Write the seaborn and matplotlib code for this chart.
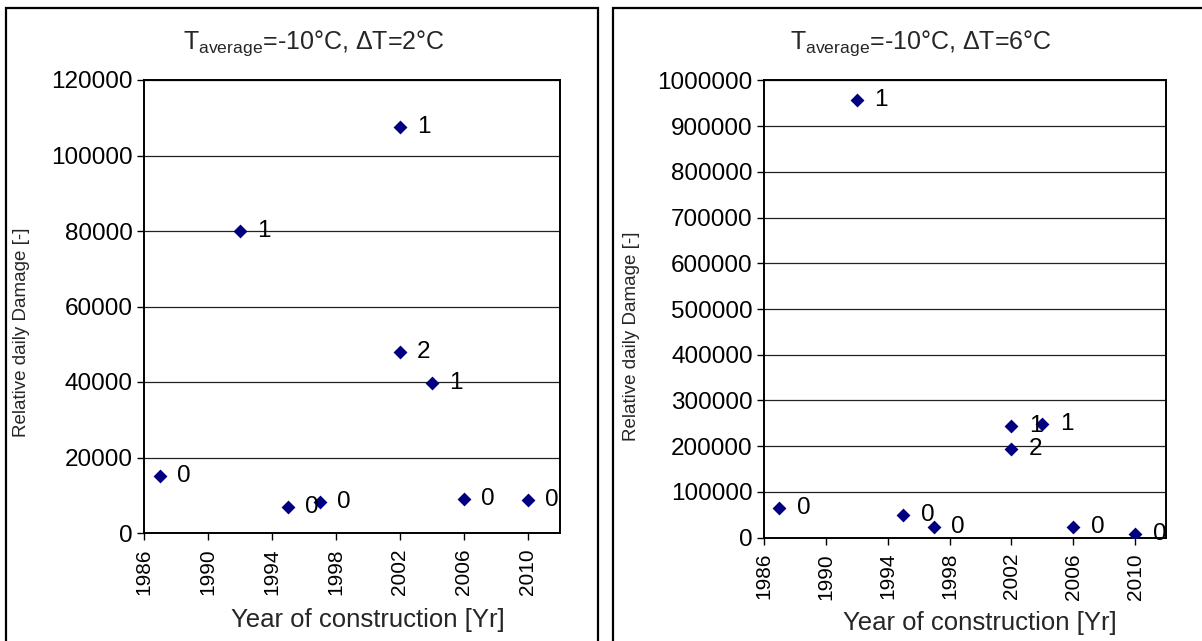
import matplotlib
matplotlib.use("Agg")
import matplotlib.pyplot as plt
from matplotlib.patches import Rectangle
from matplotlib.ticker import FuncFormatter
import seaborn as sns
import pandas as pd

# ---------------- data ----------------
years_left = [1987, 1992, 1995, 1997, 2002, 2002, 2004, 2006, 2010]
damage_left = [15200, 80000, 6900, 8300, 107600, 47900, 39700, 9100, 8700]
labels_left = ["0", "1", "0", "0", "1", "2", "1", "0", "0"]

years_right = [1987, 1992, 1995, 1997, 2002, 2002, 2004, 2006, 2010]
damage_right = [64300, 958000, 49600, 22700, 244000, 194600, 248000, 22700, 7400]
labels_right = ["0", "1", "0", "0", "1", "2", "1", "0", "0"]

xticks = [1986, 1990, 1994, 1998, 2002, 2006, 2010]
yticks_left = [0, 20000, 40000, 60000, 80000, 100000, 120000]
yticks_right = [0, 100000, 200000, 300000, 400000, 500000, 600000, 700000, 800000, 900000, 1000000]

title_left = r"T$_{\mathrm{average}}$=-10°C, ΔT=2°C"
title_right = r"T$_{\mathrm{average}}$=-10°C, ΔT=6°C"
xlabel = "Year of construction [Yr]"
ylabel = "Relative daily Damage [-]"

# ---------------- style ----------------
sns.set_style("white")
plt.rcParams["font.family"] = ["Liberation Sans", "DejaVu Sans"]
plt.rcParams["mathtext.fontset"] = "custom"
plt.rcParams["mathtext.rm"] = "Liberation Sans"
plt.rcParams["mathtext.it"] = "Liberation Sans:italic"
plt.rcParams["mathtext.bf"] = "Liberation Sans:bold"

W, H = 1202, 641
fig = plt.figure(figsize=(W / 100, H / 100), dpi=100)
fig.patch.set_facecolor("white")

# chart-area frames
fig.patches.append(Rectangle((5.5 / W, -0.02), (598 - 5.5) / W, 1 - 8 / H + 0.02,
                             transform=fig.transFigure, fill=False,
                             edgecolor="black", linewidth=1.6, zorder=0))
fig.patches.append(Rectangle((613 / W, -0.02), 1.02 - 613 / W, 1 - 8 / H + 0.02,
                             transform=fig.transFigure, fill=False,
                             edgecolor="black", linewidth=1.6, zorder=0))


def make_panel(rect, years, vals, labs, yticks, title, title_xy, ylab_xy, xlab_xy):
    ax = fig.add_axes(rect)
    df = pd.DataFrame({"year": years, "damage": vals})
    sns.scatterplot(data=df, x="year", y="damage", ax=ax, marker="D", s=50,
                    color="#000080", linewidth=0, zorder=3, legend=False)
    for x, y, t in zip(years, vals, labs):
        ax.annotate(t, (x, y), xytext=(12.5, 0), textcoords="offset points",
                    ha="left", va="center", fontsize=17.5, color="black", zorder=4)
    ax.set_xlim(xticks[0], 2012)
    ax.set_ylim(yticks[0], yticks[-1])
    ax.set_xticks(xticks)
    ax.set_yticks(yticks)
    ax.yaxis.set_major_formatter(FuncFormatter(lambda v, p: f"{int(v)}"))
    ax.set_xticklabels([str(v) for v in xticks], rotation=90, fontsize=15)
    ax.tick_params(axis="y", labelsize=17.5, direction="out", length=5, width=1.0,
                   pad=3, left=True, colors="black")
    ax.tick_params(axis="x", direction="out", length=5, width=1.0, pad=6,
                   bottom=True, colors="black")
    ax.grid(axis="y", color="#222222", linewidth=0.9)
    ax.grid(axis="x", visible=False)
    ax.set_axisbelow(True)
    for sp in ax.spines.values():
        sp.set_visible(True)
        sp.set_color("black")
        sp.set_linewidth(1.4)
    ax.set_xlabel(xlabel, fontsize=18.5)
    ax.set_ylabel(ylabel, fontsize=13.5)
    ax.xaxis.set_label_coords(*xlab_xy)
    ax.xaxis.label.set_va("center")
    ax.yaxis.set_label_coords(*ylab_xy)
    ax.yaxis.label.set_va("center")
    fig.text(title_xy[0] / W, 1 - title_xy[1] / H, title, ha="center", va="center",
             fontsize=18)
    return ax


# left panel: plot area x 143.8..559.8, y 80..533 (pixels)
make_panel([143.8 / W, 1 - 533 / H, (559.8 - 143.8) / W, (533 - 80) / H],
           years_left, damage_left, labels_left, yticks_left, title_left,
           (314, 43), (-0.293, 0.444), (0.539, -0.192))

# right panel: plot area x 763.9..1166.2, y 80.3..537.7
make_panel([763.9 / W, 1 - 537.7 / H, (1166.2 - 763.9) / W, (537.7 - 80.3) / H],
           years_right, damage_right, labels_right, yticks_right, title_right,
           (921, 43), (-0.328, 0.441), (0.537, -0.186))

fig.savefig("out.png", dpi=100, facecolor="white")
